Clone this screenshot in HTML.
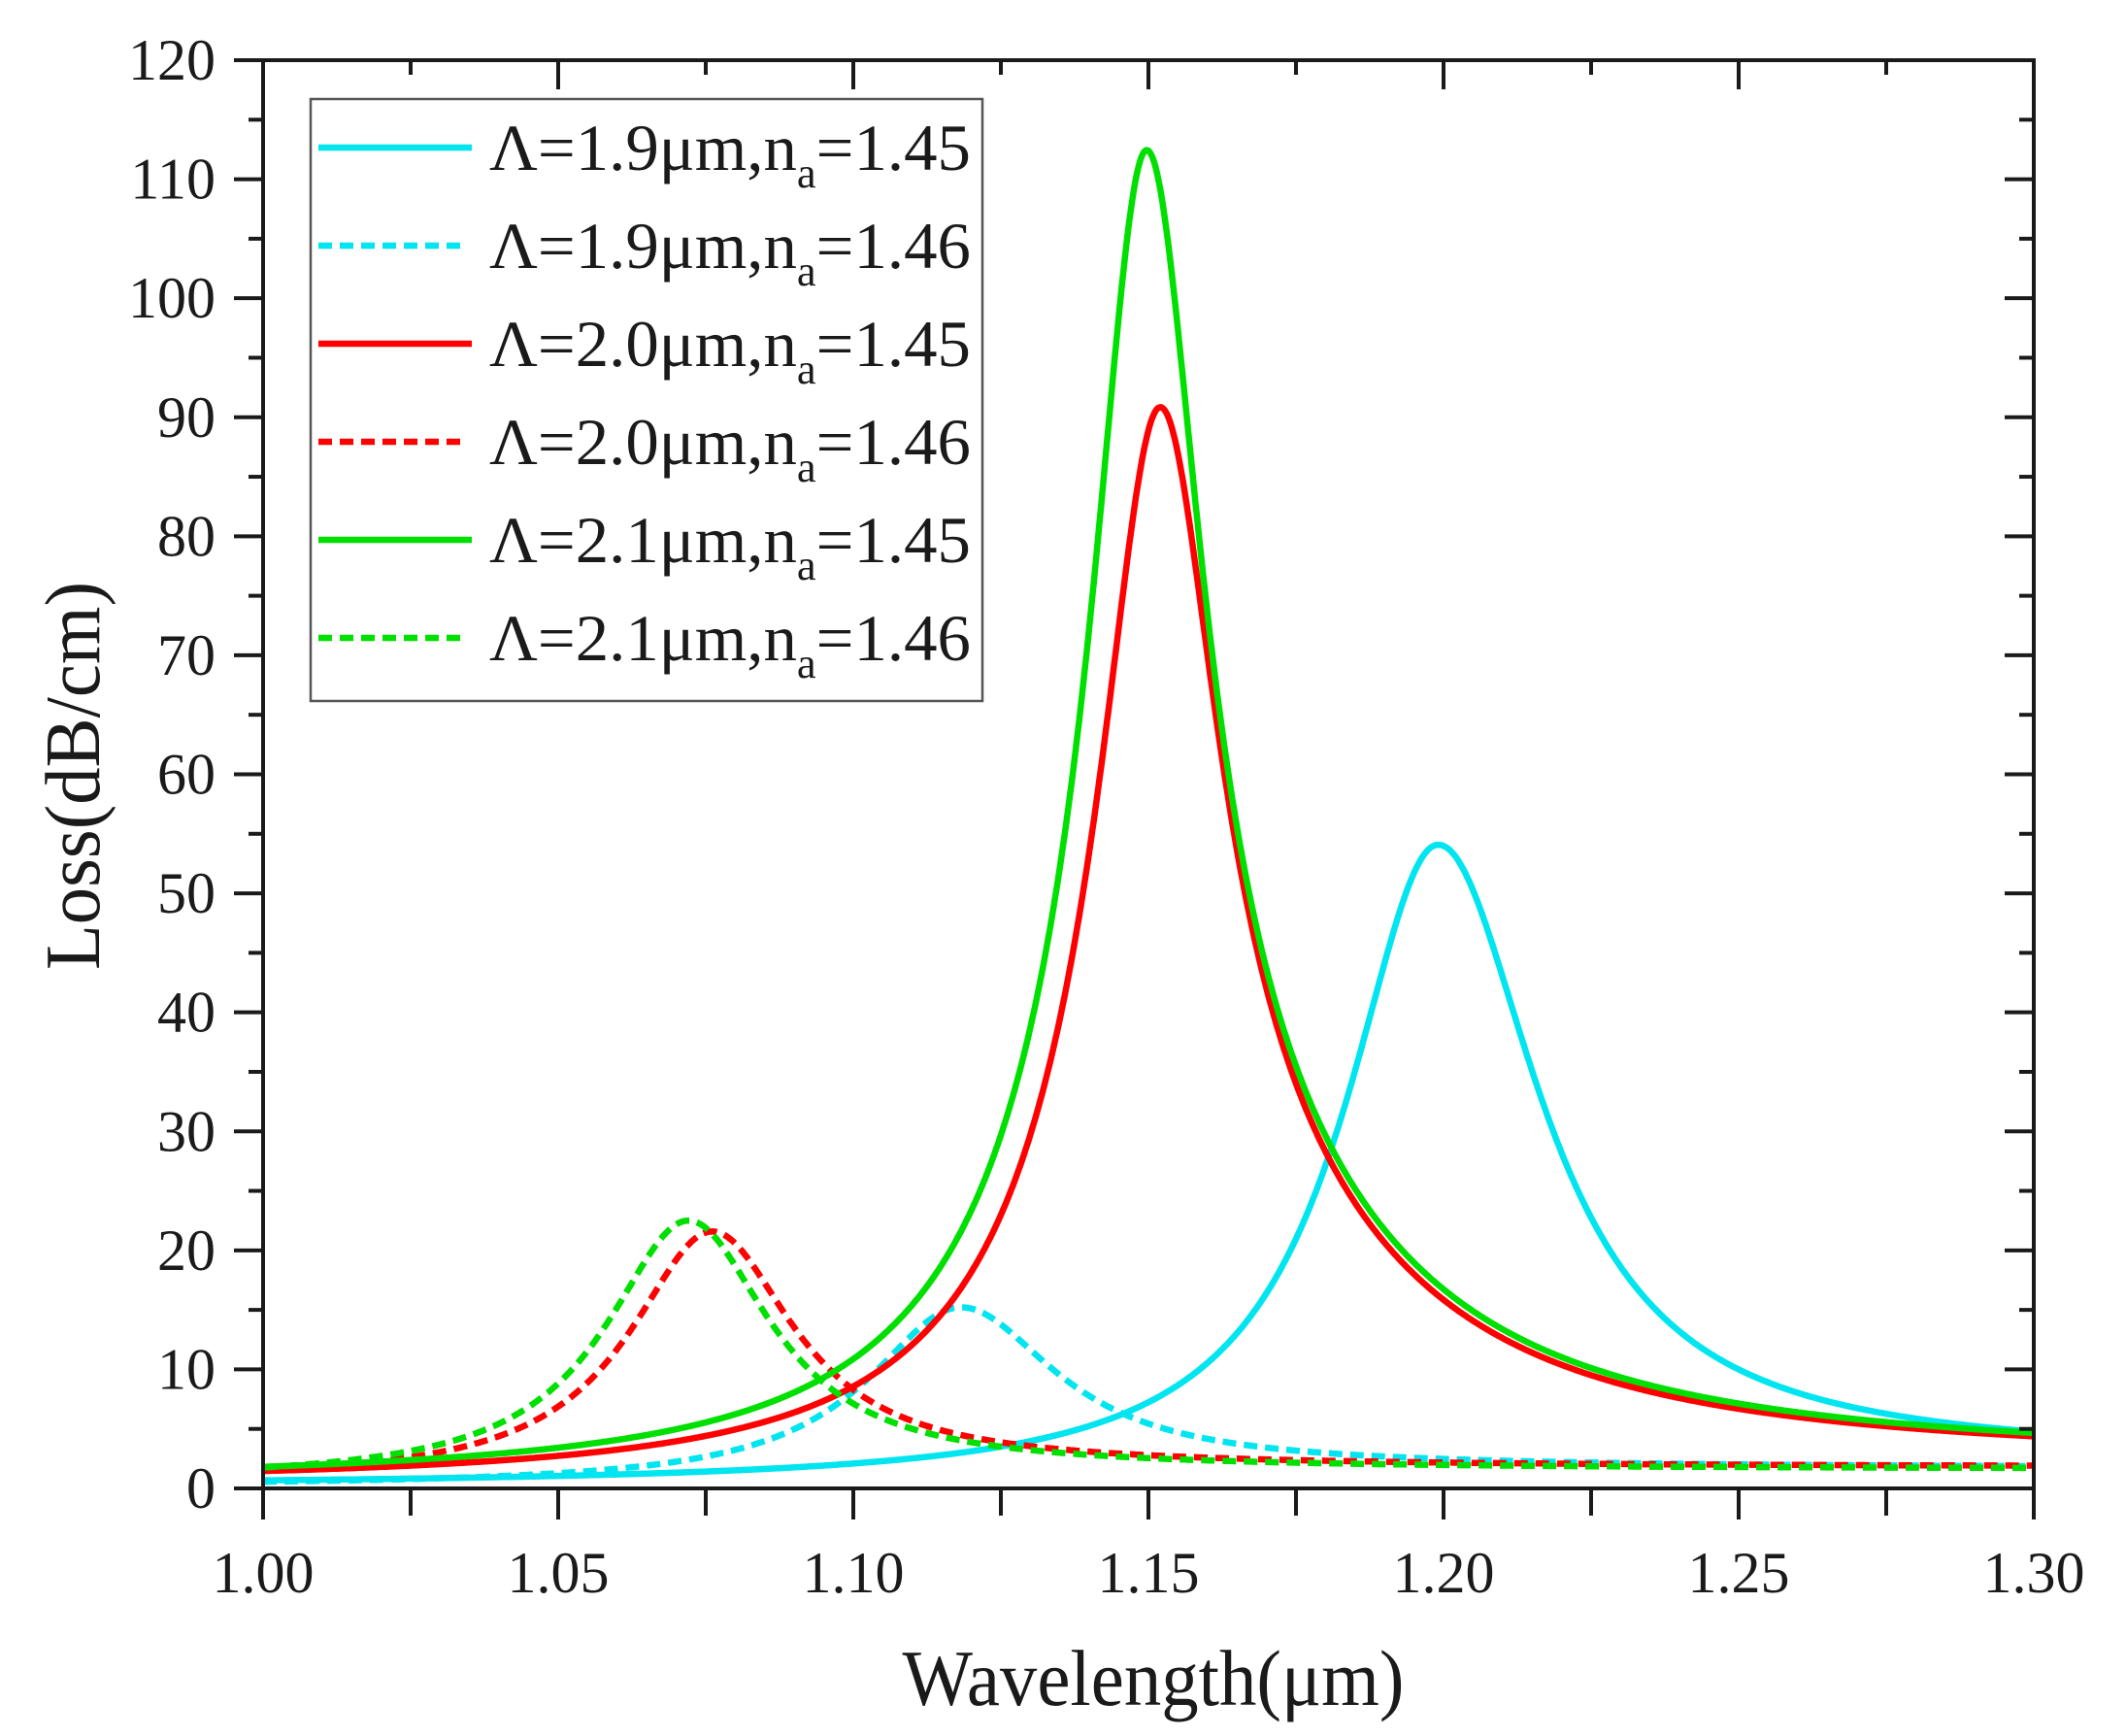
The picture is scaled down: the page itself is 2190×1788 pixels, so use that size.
<!DOCTYPE html>
<html><head><meta charset="utf-8"><style>
html,body{margin:0;padding:0;background:#fff;}
svg{display:block;}
text{font-family:"Liberation Serif",serif;fill:#1a1a1a;}
</style></head><body>
<svg id="s" width="2190" height="1788" viewBox="0 0 2190 1788" xmlns="http://www.w3.org/2000/svg">
<g id="curves" fill="none" stroke-width="6.5" stroke-linejoin="round"></g>
<g id="axes" stroke="#1a1a1a" stroke-width="4" fill="none"></g>
<g id="labels"></g>
<!-- legend -->
<rect x="320" y="102" width="692" height="620" fill="#fff" stroke="#555" stroke-width="2.5"/>
<g stroke-width="6.5">
<line x1="328" y1="152" x2="486" y2="152" stroke="#00e5f0"/>
<line x1="328" y1="253" x2="478" y2="253" stroke="#00e5f0" stroke-dasharray="14,8"/>
<line x1="328" y1="354" x2="486" y2="354" stroke="#ff0000"/>
<line x1="328" y1="455" x2="478" y2="455" stroke="#ff0000" stroke-dasharray="14,8"/>
<line x1="328" y1="556" x2="486" y2="556" stroke="#00e000"/>
<line x1="328" y1="657" x2="478" y2="657" stroke="#00e000" stroke-dasharray="14,8"/>
</g>
<g font-size="68">
<text x="504" y="175" textLength="496" lengthAdjust="spacingAndGlyphs">Λ=1.9μm,n<tspan font-size="44" dy="18">a</tspan><tspan dy="-18">=1.45</tspan></text>
<text x="504" y="276" textLength="496" lengthAdjust="spacingAndGlyphs">Λ=1.9μm,n<tspan font-size="44" dy="18">a</tspan><tspan dy="-18">=1.46</tspan></text>
<text x="504" y="377" textLength="496" lengthAdjust="spacingAndGlyphs">Λ=2.0μm,n<tspan font-size="44" dy="18">a</tspan><tspan dy="-18">=1.45</tspan></text>
<text x="504" y="478" textLength="496" lengthAdjust="spacingAndGlyphs">Λ=2.0μm,n<tspan font-size="44" dy="18">a</tspan><tspan dy="-18">=1.46</tspan></text>
<text x="504" y="579" textLength="496" lengthAdjust="spacingAndGlyphs">Λ=2.1μm,n<tspan font-size="44" dy="18">a</tspan><tspan dy="-18">=1.45</tspan></text>
<text x="504" y="680" textLength="496" lengthAdjust="spacingAndGlyphs">Λ=2.1μm,n<tspan font-size="44" dy="18">a</tspan><tspan dy="-18">=1.46</tspan></text>
</g>
<text x="1188" y="1756" font-size="82" text-anchor="middle" textLength="517" lengthAdjust="spacingAndGlyphs">Wavelength(μm)</text>
<text transform="translate(102,799) rotate(-90)" font-size="80" text-anchor="middle" textLength="400" lengthAdjust="spacingAndGlyphs">Loss(dB/cm)</text>
</svg>
<script>
var L=271,R=2095,T=62,B=1533;
function X(x){return L+(x-1)*(R-L)/0.3;}
function Y(v){return B-v*(B-T)/120;}
var ns="http://www.w3.org/2000/svg";
function el(p,t,a,txt){var e=document.createElementNS(ns,t);for(var k in a)e.setAttribute(k,a[k]);if(txt)e.textContent=txt;document.getElementById(p).appendChild(e);return e;}
function lor(x,x0,A,w){var d=(x-x0)/w;return A/(1+d*d);}
function sig(z){return 1/(1+Math.exp(-z));}
var series=[
 {c:"#00e5f0",d:false,f:function(x){var w=x<1.199?0.019:0.021;return lor(x,1.199,53,w)+0.2+2.4*sig((x-1.21)/0.02);}},
 {c:"#00e5f0",d:true,f:function(x){var w=x<1.118?0.019:0.02;return lor(x,1.118,14.3,w)+0.2+1.5*sig((x-1.12)/0.02);}},
 {c:"#ff0000",d:false,f:function(x){var d=x-1.152;var w2=d<0?0.025:0.04,w1=d<0?0.012:0.012;return lor(x,1.152,65,w1)+lor(x,1.152,24.5,w2)+0.4+1.9*sig(d/0.03);}},
 {c:"#ff0000",d:true,f:function(x){return lor(x,1.076,20.5,0.017)+0.5+1.3*sig((x-1.08)/0.02);}},
 {c:"#00e000",d:false,f:function(x){var d=x-1.1497;var w2=d<0?0.027:0.04,w1=d<0?0.011:0.0115;return lor(x,1.1497,84,w1)+lor(x,1.1497,27,w2)+0.5+1.9*sig(d/0.03);}},
 {c:"#00e000",d:true,f:function(x){return lor(x,1.072,21.5,0.017)+0.6+1.0*sig((x-1.08)/0.02);}}
];
series.forEach(function(s){var p="";for(var i=0;i<=1200;i++){var x=1+0.3*i/1200;p+=(i?"L":"M")+X(x).toFixed(1)+","+Y(s.f(x)).toFixed(1);}
 var a={d:p,stroke:s.c};if(s.d)a["stroke-dasharray"]="14,8";el("curves","path",a);});
el("axes","rect",{x:L,y:T,width:R-L,height:B-T});
for(var v=0;v<=120;v+=5){var y=Y(v),maj=v%10==0;
 el("axes","line",{x1:L,y1:y,x2:L-(maj?30:15),y2:y});
 el("axes","line",{x1:R,y1:y,x2:R-(maj?30:15),y2:y});
 if(maj)el("labels","text",{x:222,y:y+20,"font-size":60,"text-anchor":"end"},String(v));}
for(var i=0;i<=12;i++){var x=X(1+0.025*i),maj=i%2==0;
 el("axes","line",{x1:x,y1:B,x2:x,y2:B+(maj?32:28)});
 el("axes","line",{x1:x,y1:T,x2:x,y2:T+(maj?30:15)});
 if(maj)el("labels","text",{x:x,y:1640,"font-size":60,"text-anchor":"middle"},(1+0.025*i).toFixed(2));}
</script>
</body></html>
